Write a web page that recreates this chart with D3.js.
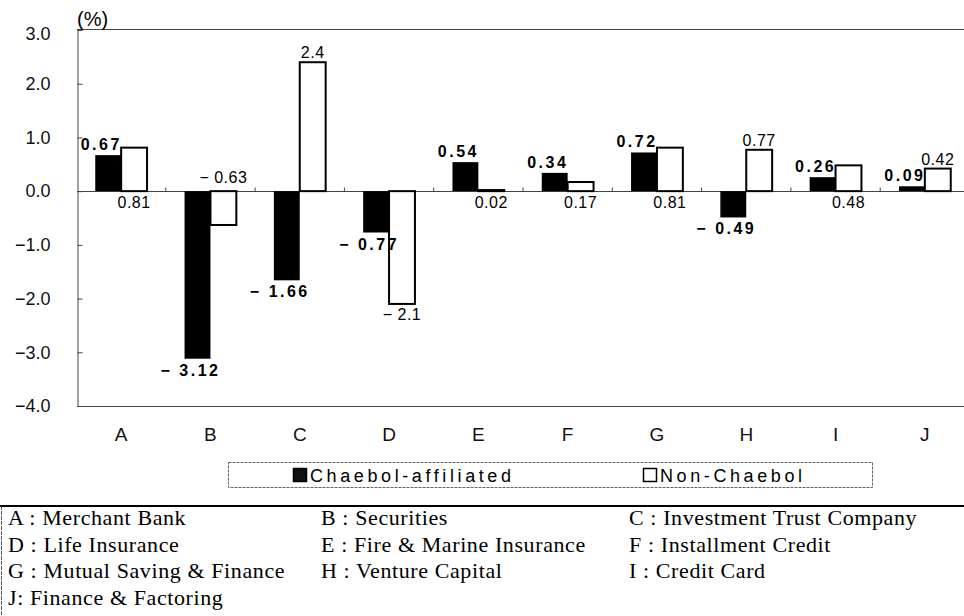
<!DOCTYPE html>
<html>
<head>
<meta charset="utf-8">
<script src="https://cdn.jsdelivr.net/npm/d3@7"></script>
<style>
    body { margin: 0; background: #fff; }
    svg { display: block; }
</style>
</head>
<body>
<svg id="drawing_region"></svg>
<script>
// values (%)
const categories = ['A', 'B', 'C', 'D', 'E', 'F', 'G', 'H', 'I', 'J'];
const chaebol = [0.67, -3.12, -1.66, -0.77, 0.54, 0.34, 0.72, -0.49, 0.26, 0.09];
const nonChaebol = [0.81, -0.63, 2.4, -2.1, 0.02, 0.17, 0.81, 0.77, 0.48, 0.42];
const nonChaebolLabels = ['0.81', '-0.63', '2.4', '-2.1', '0.02', '0.17', '0.81', '0.77', '0.48', '0.42'];
// where the non-chaebol value label sits: next to the zero line or at the bar end
const nonLabelAt = ['axis', 'axis', 'end', 'end', 'axis', 'axis', 'axis', 'end', 'axis', 'end'];
const yTicks = [3, 2, 1, 0, -1, -2, -3, -4];
const seriesNames = ['Chaebol-affiliated', 'Non-Chaebol'];
const footnotes = [
    'A : Merchant Bank', 'B : Securities', 'C : Investment Trust Company',
    'D : Life Insurance', 'E : Fire & Marine Insurance', 'F : Installment Credit',
    'G : Mutual Saving & Finance', 'H : Venture Capital', 'I : Credit Card',
    'J: Finance & Factoring'
];

const width = 964, height = 616;
const margin = { top: 30, left: 77, bottom: 406 };
const sans = '"Liberation Sans", Arial, sans-serif';

const svg = d3.select('#drawing_region')
    .attr('width', width)
    .attr('height', height)
    .style('font-family', sans);

const xscale = d3.scaleBand()
    .domain(categories)
    .range([margin.left - 0.5, margin.left + 892.5])
    .paddingInner(0.42)
    .paddingOuter(0.21);

const x1 = d3.scaleBand()
    .domain(['c', 'n'])
    .range([0, xscale.bandwidth()]);

const yscale = d3.scaleLinear()
    .domain([-4, 3])
    .range([margin.bottom, margin.top]);

const fmt = v => v < 0 ? '\u2212 ' + Math.abs(v).toFixed(2) : v.toFixed(2);
const fmtLabel = s => s[0] === '-' ? '\u2212 ' + s.slice(1) : s;

// frame lines
const frame = svg.append('g').attr('stroke', '#444').attr('stroke-width', 1);
frame.append('line')
    .attr('x1', margin.left).attr('x2', width)
    .attr('y1', yscale(3) - 0.5).attr('y2', yscale(3) - 0.5);
frame.append('line')
    .attr('x1', margin.left).attr('x2', width)
    .attr('y1', yscale(-4) + 0.5).attr('y2', yscale(-4) + 0.5);

// y axis
const yaxis = d3.axisLeft(yscale)
    .tickValues(yTicks)
    .tickSizeInner(-5)
    .tickSizeOuter(0)
    .tickPadding(27)
    .tickFormat(d => d < 0 ? '\u2212' + Math.abs(d).toFixed(1) : d.toFixed(1));

const yaxis_group = svg.append('g')
    .attr('transform', `translate(${margin.left + 0.5}, 0)`)
    .call(yaxis);
yaxis_group.selectAll('path, line').attr('stroke', '#444');
yaxis_group.selectAll('text')
    .attr('font-family', sans)
    .attr('font-size', 18)
    .attr('fill', '#111');
yaxis_group.select('.tick:first-of-type text').attr('dy', '0.55em');

svg.append('text')
    .attr('x', 77).attr('y', 26)
    .attr('font-size', 20)
    .text('(%)');

// zero line with ticks between categories
const zeroY = Math.round(yscale(0)) + 0.5;
svg.append('line')
    .attr('x1', margin.left).attr('x2', width)
    .attr('y1', zeroY).attr('y2', zeroY)
    .attr('stroke', '#444');
svg.append('g')
    .selectAll('line')
    .data(categories.slice(1))
    .enter()
    .append('line')
    .attr('x1', d => xscale(d) - xscale.step() * 0.21)
    .attr('x2', d => xscale(d) - xscale.step() * 0.21)
    .attr('y1', zeroY - 4)
    .attr('y2', zeroY)
    .attr('stroke', '#444');

// bars
const groups = svg.append('g')
    .selectAll('g')
    .data(categories)
    .enter()
    .append('g')
    .attr('transform', d => `translate(${xscale(d)}, 0)`);

groups.append('rect')
    .attr('x', x1('c'))
    .attr('width', x1.bandwidth())
    .attr('y', (d, i) => yscale(Math.max(0, chaebol[i])))
    .attr('height', (d, i) => Math.abs(yscale(chaebol[i]) - yscale(0)))
    .attr('fill', '#000');

groups.append('rect')
    .attr('x', x1('n'))
    .attr('width', x1.bandwidth())
    .attr('y', (d, i) => yscale(Math.max(0, nonChaebol[i])))
    .attr('height', (d, i) => Math.max(1, Math.abs(yscale(nonChaebol[i]) - yscale(0))))
    .attr('fill', '#fff')
    .attr('stroke', '#000')
    .attr('stroke-width', 2);

// value labels
groups.append('text')
    .attr('x', x1('c') + x1.bandwidth() / 2 - 7)
    .attr('y', (d, i) => chaebol[i] >= 0 ? yscale(chaebol[i]) - 5 : yscale(chaebol[i]) + 17)
    .attr('text-anchor', 'middle')
    .attr('font-size', 16)
    .attr('font-weight', 'bold')
    .attr('letter-spacing', 2.5)
    .text((d, i) => fmt(chaebol[i]));

groups.append('text')
    .attr('x', x1('n') + x1.bandwidth() / 2)
    .attr('y', (d, i) => {
        const v = nonChaebol[i];
        if (nonLabelAt[i] === 'axis') return v >= 0 ? yscale(0) + 17 : yscale(0) - 8;
        return v >= 0 ? yscale(v) - 4 : yscale(v) + 16;
    })
    .attr('text-anchor', 'middle')
    .attr('font-size', 16)
    .attr('letter-spacing', 0.5)
    .text((d, i) => fmtLabel(nonChaebolLabels[i]));

// category axis
const xaxis = d3.axisBottom(xscale).tickSize(0).tickPadding(22);
const xaxis_group = svg.append('g')
    .attr('transform', `translate(0, ${margin.bottom})`)
    .call(xaxis);
xaxis_group.select('.domain').remove();
xaxis_group.selectAll('text')
    .attr('font-family', sans)
    .attr('font-size', 19)
    .attr('fill', '#111');

// legend
const legend = svg.append('g');
legend.append('rect')
    .attr('x', 228.5).attr('y', 462.5)
    .attr('width', 644).attr('height', 25)
    .attr('fill', 'none')
    .attr('stroke', '#666')
    .attr('stroke-dasharray', '3,1');

const legendItems = legend.selectAll('g.item')
    .data(seriesNames)
    .enter()
    .append('g')
    .attr('class', 'item')
    .attr('transform', (d, i) => `translate(${i === 0 ? 293 : 643}, 468)`);
legendItems.append('rect')
    .attr('x', 0.5).attr('y', 0.5)
    .attr('width', 13).attr('height', 13)
    .attr('fill', (d, i) => i === 0 ? '#111' : '#fff')
    .attr('stroke', '#000')
    .attr('stroke-width', 1.5);
legendItems.append('text')
    .attr('x', 17).attr('y', 14)
    .attr('font-size', 18)
    .attr('letter-spacing', 3.6)
    .text(d => d);

// footnote box
svg.append('line')
    .attr('x1', 0).attr('x2', width)
    .attr('y1', 506).attr('y2', 506)
    .attr('stroke', '#000').attr('stroke-width', 2);
svg.append('line')
    .attr('x1', 1.5).attr('x2', 1.5)
    .attr('y1', 506).attr('y2', height)
    .attr('stroke', '#555').attr('stroke-dasharray', '4,1');

const colX = [8, 321, 629];
svg.append('g')
    .selectAll('text')
    .data(footnotes)
    .enter()
    .append('text')
    .attr('x', (d, i) => colX[i % 3])
    .attr('y', (d, i) => 525 + Math.floor(i / 3) * 26.7)
    .attr('font-family', '"Liberation Serif", "Times New Roman", serif')
    .attr('font-size', 22)
    .attr('letter-spacing', 0.6)
    .text(d => d);
</script>
</body>
</html>
